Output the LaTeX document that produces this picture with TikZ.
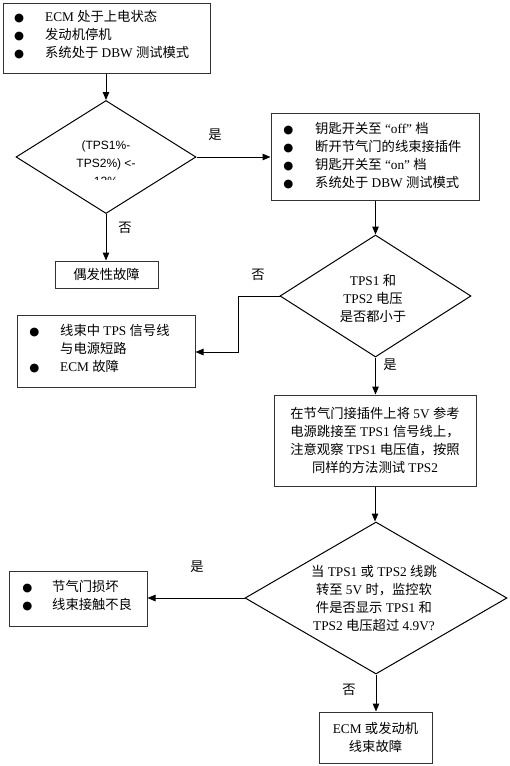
\documentclass[tikz,border=0pt]{standalone}
\usepackage{fontspec}
\setmainfont{Liberation Serif}
\newfontfamily\cjk{Noto Sans CJK SC}
\newfontfamily\dvfont{DejaVu Sans}
\newfontfamily\arialf{Liberation Sans}
\usetikzlibrary{arrows.meta,shapes.geometric}
\newcommand\C[1]{{\cjk #1}}
\newcommand\bul{{\dvfont\fontsize{11.5}{10}\selectfont ●}}
\newcommand\bi[1]{\makebox[#1][l]{\hspace{-0.5pt}\bul}}
\begin{document}
\begin{tikzpicture}[x=1pt,y=-1pt,
  box/.style={draw=black!80, line width=1pt, inner sep=0pt},
  dia/.style={draw=black, line width=1pt, diamond, inner sep=0pt},
  txt/.style={inner sep=0pt, font=\fontsize{13.3}{18}\selectfont},
  lbl/.style={inner sep=0pt, font=\fontsize{13.3}{18}\selectfont},
  arr/.style={-{Triangle[length=8pt,width=6.5pt]}, line width=1pt},
  ln/.style={line width=1pt}]
\useasboundingbox (0,0) rectangle (510,766);

% boxes
\node[box, minimum width=207pt, minimum height=70pt] (b1) at (106.5,38) {};
\node[box, minimum width=208pt, minimum height=87pt] (b2) at (375,156.5) {};
\node[box, minimum width=103pt, minimum height=27pt] (b3) at (106.5,274.5) {};
\node[box, minimum width=178pt, minimum height=72pt] (b4) at (106,351) {};
\node[box, minimum width=202pt, minimum height=91pt] (b5) at (375,440.5) {};
\node[box, minimum width=138pt, minimum height=55pt] (b6) at (78,598.5) {};
\node[box, minimum width=113pt, minimum height=51pt] (b7) at (375.5,737.5) {};

% diamonds
\node[dia, minimum width=180pt, minimum height=113pt] (d1) at (106,157) {};
\node[dia, minimum width=191pt, minimum height=122pt] (d2) at (375.5,296) {};
\node[dia, minimum width=262pt, minimum height=152pt] (d3) at (376,598) {};

% texts
\node[txt, anchor=west, align=left] (t1) at (14.5,35) {%
  \bi{30.5pt}ECM \C{处于上电状态}\\
  \bi{30.5pt}\C{发动机停机}\\
  \bi{30.5pt}\C{系统处于} DBW \C{测试模式}};
\node[txt, anchor=west, align=left] (t2) at (283.7,156) {%
  \bi{31.3pt}\C{钥匙开关至} “off” \C{档}\\
  \bi{31.3pt}\C{断开节气门的线束接插件}\\
  \bi{31.3pt}\C{钥匙开关至} “on” \C{档}\\
  \bi{31.3pt}\C{系统处于} DBW \C{测试模式}};
\node[txt] (t3) at (106.5,274.5) {\C{偶发性故障}};
\node[txt, anchor=west, align=left] (t4) at (29.7,349) {%
  \bi{30.3pt}\C{线束中} TPS \C{信号线}\\
  \makebox[30.3pt]{}\C{与电源短路}\\
  \bi{30.3pt}ECM \C{故障}};
\node[txt, align=center] (t5) at (375,440) {%
  \C{在节气门接插件上将} 5V \C{参考}\\
  \C{电源跳接至} TPS1 \C{信号线上，}\\
  \C{注意观察} TPS1 \C{电压值，按照}\\
  \C{同样的方法测试} TPS2};
\node[txt, anchor=west, align=left] (t6) at (22.7,595.5) {%
  \bi{29.3pt}\C{节气门损坏}\\
  \bi{29.3pt}\C{线束接触不良}};
\node[txt, align=center] (t7) at (375.5,737) {%
  ECM \C{或发动机}\\
  \C{线束故障}};
\node[txt, align=center] (t9) at (374,598) {%
  \C{当} TPS1 \C{或} TPS2 \C{线跳}\\
  \C{转至} 5V \C{时，监控软}\\
  \C{件是否显示} TPS1 \C{和}\\
  TPS2 \C{电压超过} 4.9V?};
\begin{scope}
  \clip (0,0) rectangle (510,179);
  \node[inner sep=0pt, align=center, font=\arialf\fontsize{12}{18}\selectfont] (t8) at (106,163) {%
    (TPS1\%-\\ TPS2\%) <-\\ 12\%};
\end{scope}
\begin{scope}
  \clip (0,0) rectangle (510,321);
  \node[txt, align=center] (t10) at (373,299) {%
    TPS1 \C{和}\\
    TPS2 \C{电压}\\
    \C{是否都小于}};
\end{scope}

% connectors
\draw[arr] (b1.south -| d1.north) -- (d1.north);
\draw[arr] (d1.east) -- (d1.east -| b2.west);
\draw[arr] (d1.south) -- (b3.north -| d1.south);
\draw[arr] (b2.south -| d2.north) -- (d2.north);
\coordinate (k) at (238,352);
\draw[arr] (d2.west) -| (k) -- (k -| b4.east);
\draw[arr] (d2.south) -- (b5.north -| d2.south);
\draw[arr] (b5.south) -- (b5.south |- d3.north);
\draw[arr] (d3.west) -- (d3.west -| b6.east);
\draw[arr] (d3.south) -- (d3.south |- b7.north);

% labels
\node[lbl] (l1) at (215,135) {\C{是}};
\node[lbl] (l2) at (125,228) {\C{否}};
\node[lbl] (l3) at (258,275) {\C{否}};
\node[lbl] (l4) at (390,365) {\C{是}};
\node[lbl] (l5) at (197,567) {\C{是}};
\node[lbl] (l6) at (349,690) {\C{否}};
\end{tikzpicture}
\end{document}
